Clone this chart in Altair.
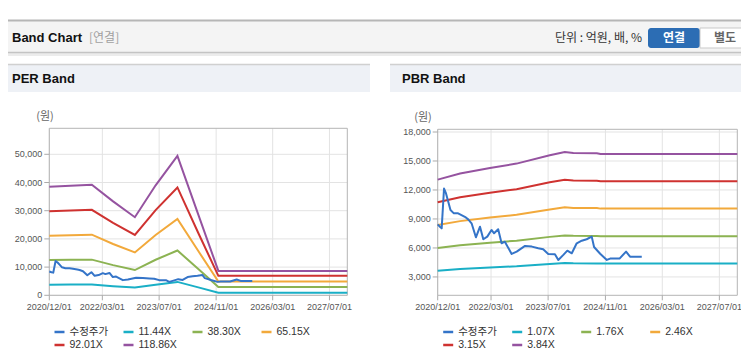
import altair as alt
import pandas as pd

# ---------------- data ----------------
price_dates = ["2020-12-01","2020-12-20","2021-01-04","2021-01-24","2021-02-10","2021-03-01","2021-03-20",
               "2021-04-18","2021-05-24","2021-06-22","2021-07-29","2021-08-18","2021-09-16","2021-10-23",
               "2021-11-27","2021-12-25","2022-01-28","2022-03-05","2022-03-27","2022-05-01","2022-05-30",
               "2022-06-27","2022-08-24","2022-10-06","2022-12-16","2023-02-12","2023-04-08","2023-05-20",
               "2023-07-02","2023-08-28","2023-09-26","2023-11-08","2023-12-12","2024-01-19","2024-03-01",
               "2024-04-13","2024-05-25","2024-07-07","2024-07-27","2024-09-17","2024-11-13","2024-12-11",
               "2025-03-01","2025-04-26","2025-05-30","2025-09-07"]
price_values = [8440, 8200, 8030, 12150, 11640, 10770, 9920, 9580, 9580, 9400,
                9160, 8960, 8550, 7100, 8200, 6900, 7170, 7860, 7520, 7930,
                6480, 6650, 5380, 5620, 6210, 6140, 5970, 5860, 5380, 5350,
                4760, 5280, 5720, 5450, 6480, 6750, 6900, 7170, 6100, 5400,
                4760, 4900, 4900, 5620, 5100, 5100]

per_dates = ["2020-12-01","2021-06-01","2021-12-01","2022-06-01","2022-12-05",
             "2023-06-01","2023-12-05","2024-06-01","2024-11-20","2027-12-01"]
per_11_44 = [3750, 3800, 3850, 3250, 2750, 3760, 4750, 2800, 900, 900]
per_38_30 = [12500, 12600, 12650, 10700, 8950, 12600, 15900, 9300, 2950, 2950]
per_65_15 = [21100, 21300, 21500, 18200, 15200, 21400, 27100, 15700, 4850, 4850]
per_92_01 = [29800, 30100, 30300, 25700, 21400, 30200, 38250, 22100, 6900, 6900]
per_118_86 = [38500, 38850, 39200, 33300, 27700, 39000, 49450, 28600, 8650, 8650]

pbr_dates = ["2020-12-01","2021-06-10","2022-02-20","2022-10-05","2023-07-15",
             "2023-11-20","2024-02-01","2024-08-20","2024-09-20","2027-12-01"]
pbr_1_07 = [3643, 3818, 3977, 4105, 4344, 4438, 4411, 4403, 4381, 4381]
pbr_1_76 = [5993, 6280, 6542, 6751, 7146, 7300, 7255, 7242, 7205, 7205]
pbr_2_46 = [8376, 8777, 9144, 9437, 9988, 10204, 10140, 10123, 10071, 10071]
pbr_3_15 = [10726, 11239, 11709, 12083, 12789, 13066, 12984, 12962, 12896, 12896]
pbr_3_84 = [13075, 13700, 14275, 14730, 15590, 15930, 15830, 15800, 15720, 15720]

per_series = ["수정주가", "11.44X", "38.30X", "65.15X", "92.01X", "118.86X"]
pbr_series = ["수정주가", "1.07X", "1.76X", "2.46X", "3.15X", "3.84X"]
series_colors = ["#3474c8", "#1aafc6", "#8cb352", "#f2a93b", "#cf3230", "#9553a0"]

x_tick_dates = ["2020-12-01", "2022-03-01", "2023-07-01", "2024-11-01", "2026-03-01", "2027-07-01"]
x_tick_labels = ["2020/12/01", "2022/03/01", "2023/07/01", "2024/11/01", "2026/03/01", "2027/07/01"]
per_y_ticks = [0, 10000, 20000, 30000, 40000, 50000]
per_y_labels = ["0", "10,000", "20,000", "30,000", "40,000", "50,000"]
pbr_y_ticks = [3000, 6000, 9000, 12000, 15000, 18000]
pbr_y_labels = ["3,000", "6,000", "9,000", "12,000", "15,000", "18,000"]

title_text = "Band Chart"
sub_text = "[연결]"
unit_text = "단위 : 억원, 배, %"
btn1_text = "연결"
btn2_text = "별도"
per_title = "PER Band"
pbr_title = "PBR Band"
unit_label = "(원)"

# ---------------- helpers ----------------
LAT = "Liberation Sans, Noto Sans CJK KR, sans-serif"
KR = "Noto Sans CJK KR, sans-serif"
W, H = 733, 342
ONE = pd.DataFrame({"k": [0]})


def rect(x, x2, y, y2, **kw):
    return alt.Chart(ONE).mark_rect(**kw).encode(
        x=alt.value(x), x2=alt.value(x2), y=alt.value(y), y2=alt.value(y2))


def hline(x, x2, y, color, w=1):
    return alt.Chart(ONE).mark_rule(color=color, strokeWidth=w).encode(
        x=alt.value(x), x2=alt.value(x2), y=alt.value(y))


def text(s, x, y, **kw):
    return alt.Chart(pd.DataFrame({"t": [s]})).mark_text(baseline="middle", **kw).encode(
        text="t:N", x=alt.value(x), y=alt.value(y))


def long_bands(dates, names, cols):
    rows = []
    for n, c in zip(names, cols):
        rows.append(pd.DataFrame({"date": dates, "value": c, "series": n}))
    return pd.concat(rows, ignore_index=True)


def make_panel(bands, series, yticks, ylabels, x0, x1, y0, y1, ydom, unit_x, legend_x):
    xs = alt.Scale(domain=[alt.DateTime(year=2020, month=12, date=1, utc=True),
                           alt.DateTime(year=2027, month=12, date=1, utc=True)],
                   range=[x0, x1], nice=False)
    ys = alt.Scale(domain=ydom, range=[y1, y0], nice=False, zero=False)
    X = alt.X("date:T", scale=xs, axis=None)
    Y = alt.Y("value:Q", scale=ys, axis=None)
    xt = pd.DataFrame({"date": x_tick_dates, "label": x_tick_labels})
    yt = pd.DataFrame({"value": yticks, "label": ylabels})
    price = pd.DataFrame({"date": price_dates, "value": price_values, "series": series[0]})
    legend = alt.Legend(orient="none", legendX=legend_x, legendY=317.5, columns=4, title=None,
                        direction="horizontal",
                        symbolType="stroke", symbolSize=100, symbolStrokeWidth=2.5,
                        labelFont=LAT, labelFontSize=10.5, labelColor="#333",
                        labelOffset=3.5, columnPadding=9, rowPadding=1, gridAlign="all",
                        padding=0, labelLimit=200)
    C = alt.Color("series:N", scale=alt.Scale(domain=series, range=series_colors), legend=legend)

    vgrid = alt.Chart(xt).mark_rule(color="#e3e3e3", strokeWidth=1).encode(
        x=X, y=alt.value(y0), y2=alt.value(y1))
    hgrid = alt.Chart(yt).mark_rule(color="#e3e3e3", strokeWidth=1).encode(
        y=Y, x=alt.value(x0), x2=alt.value(x1))
    xtick = alt.Chart(xt).mark_rule(color="#aaaaaa", strokeWidth=1).encode(
        x=X, y=alt.value(y1), y2=alt.value(y1 + 5))
    ytick = alt.Chart(yt).mark_rule(color="#aaaaaa", strokeWidth=1).encode(
        y=Y, x=alt.value(x0 - 5), x2=alt.value(x0))
    border = rect(x0, x1, y0, y1, filled=False, stroke="#b4b4b4", strokeWidth=1)
    band_lines = alt.Chart(bands).mark_line(strokeWidth=2).encode(x=X, y=Y, color=C)
    price_line = alt.Chart(price).mark_line(strokeWidth=2, strokeJoin="round").encode(x=X, y=Y, color=C)
    xlab = alt.Chart(xt).mark_text(align="center", baseline="middle", font=LAT, fontSize=9,
                                   color="#555").encode(x=X, y=alt.value(y1 + 11.5), text="label:N")
    ylab = alt.Chart(yt).mark_text(align="right", baseline="middle", font=LAT, fontSize=9,
                                   color="#555").encode(y=Y, x=alt.value(x0 - 7), text="label:N")
    unit = text(unit_label, unit_x, y0 - 11, align="center", font=KR, fontSize=11, color="#666")
    return alt.layer(vgrid, hgrid, border, xtick, ytick, band_lines, price_line, xlab, ylab, unit)


per_bands = long_bands(per_dates, per_series[1:], [per_11_44, per_38_30, per_65_15, per_92_01, per_118_86])
pbr_bands = long_bands(pbr_dates, pbr_series[1:], [pbr_1_07, pbr_1_76, pbr_2_46, pbr_3_15, pbr_3_84])

left = make_panel(per_bands, per_series, per_y_ticks, per_y_labels,
                  41.3, 339.3, 120.3, 287.3, [0, 59220], 37, 45)
right = make_panel(pbr_bands, pbr_series, pbr_y_ticks, pbr_y_labels,
                   429.7, 729.3, 121.3, 287.3, [1100, 18280], 415, 433.7)

decos = [
    # top header bar
    rect(0, W, 12, 45, color="#f4f4f4"),
    rect(0, W, 45, 48, color="#ececec"),
    hline(0, W, 12.5, "#b6b6b6", 2),
    hline(0, W, 44.5, "#c4c4c4", 1.5),
    text(title_text, 4, 30, align="left", font=LAT, fontSize=13, fontWeight="bold", color="#111"),
    text(sub_text, 81, 30, align="left", font=KR, fontSize=12, color="#a0a0a0"),
    text(unit_text, 634, 30, align="right", font=KR, fontSize=12, color="#333"),
    rect(640, 692, 20, 40, color="#2c6db4", cornerRadius=3),
    rect(692, 745, 20, 40, fill="#ffffff", stroke="#c9c9c9", strokeWidth=1),
    text(btn1_text, 666, 30, align="center", font=KR, fontSize=12, fontWeight="bold", color="#ffffff"),
    text(btn2_text, 717, 30, align="center", font=KR, fontSize=12, fontWeight="bold", color="#666"),
    # panel headers
    rect(0, 362, 56, 84, color="#eef1f6"),
    hline(0, 362, 56.5, "#d0d0d0", 1.5),
    text(per_title, 4, 71, align="left", font=LAT, fontSize=13, fontWeight="bold", color="#111"),
    rect(382, W, 56, 84, color="#eef1f6"),
    hline(382, W, 56.5, "#d0d0d0", 1.5),
    text(pbr_title, 394, 71, align="left", font=LAT, fontSize=13, fontWeight="bold", color="#111"),
]

chart = alt.layer(*decos, left, right).resolve_scale(
    x="independent", y="independent", color="independent"
).properties(
    width=W, height=H, autosize=alt.AutoSizeParams(type="none"), padding=0, background="#ffffff"
).configure_view(stroke=None)

chart.save("out.html", embed_options={"renderer": "svg", "actions": False})
